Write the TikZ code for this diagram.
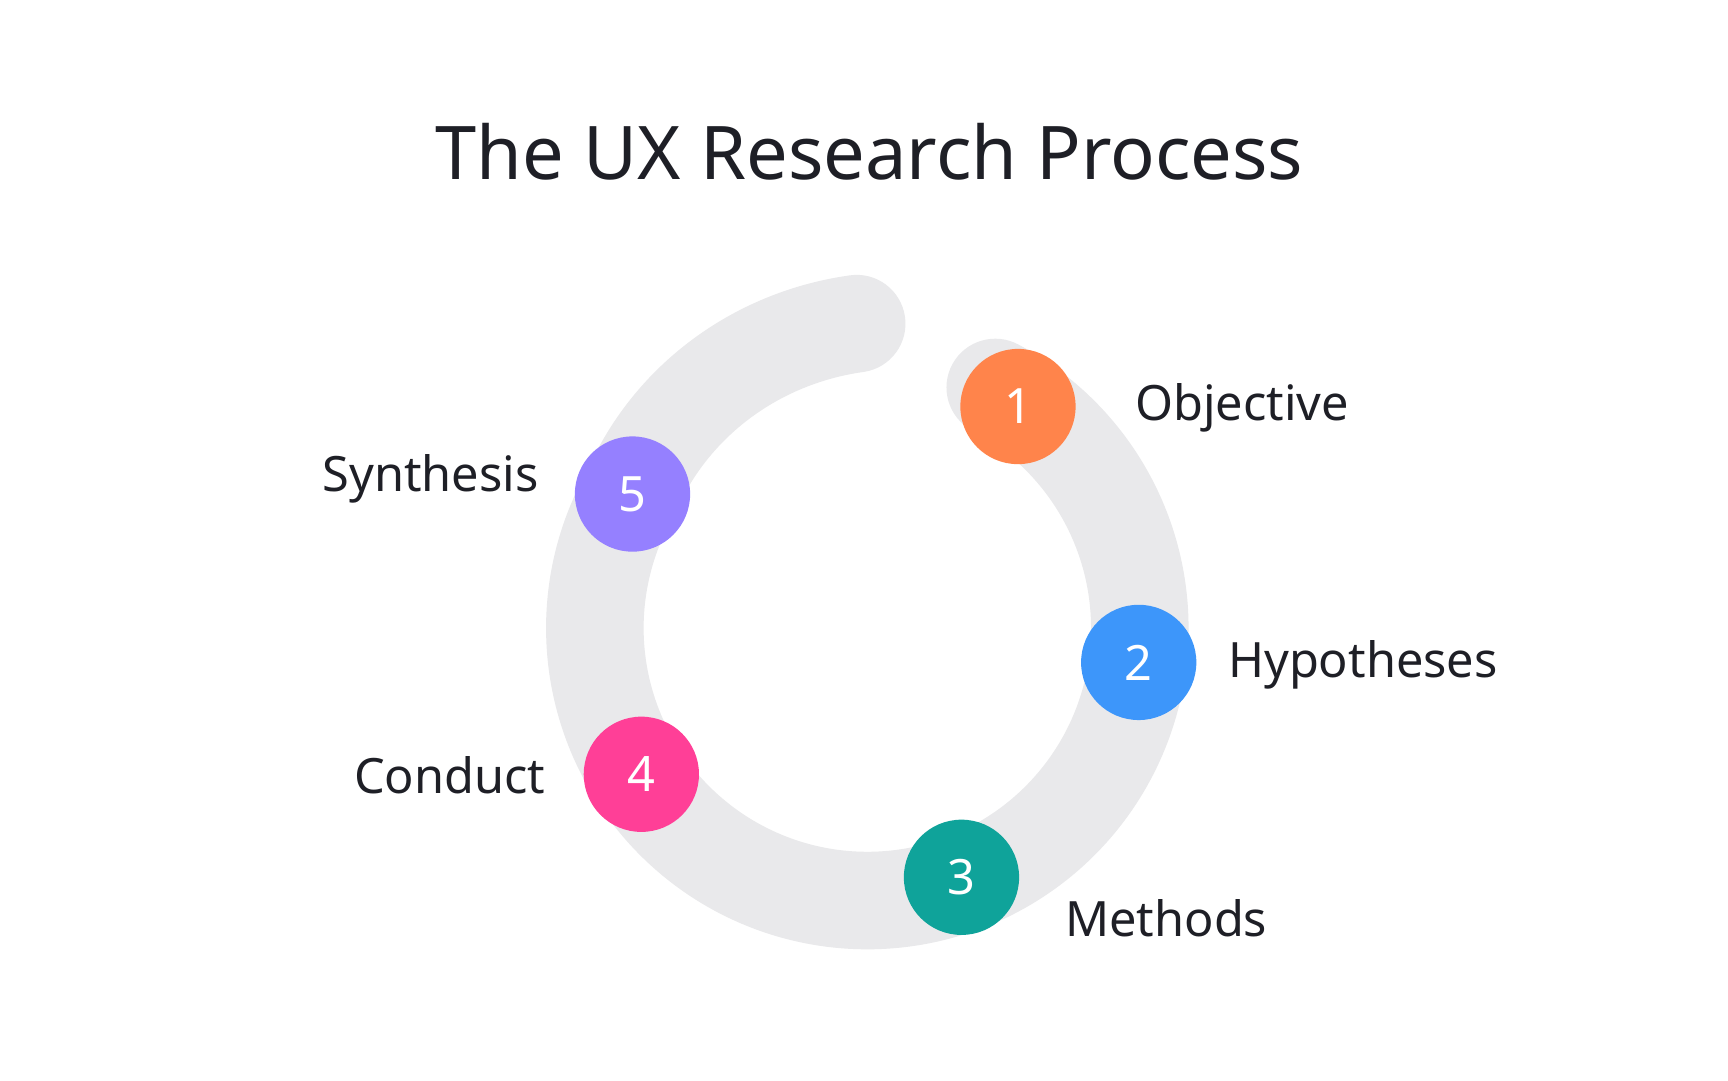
\documentclass[tikz,border=0pt]{standalone}
\usepackage{fontspec}
\setmainfont{Noto Sans}
\definecolor{ring}{HTML}{E9E9EB}
\definecolor{ink}{HTML}{1E1F26}
\definecolor{c1}{HTML}{FF844B}
\definecolor{c2}{HTML}{3D96FA}
\definecolor{c3}{HTML}{0FA39A}
\definecolor{c4}{HTML}{FF3F97}
\definecolor{c5}{HTML}{9580FF}
\begin{document}
\begin{tikzpicture}[x=0.01cm,y=-0.01cm,
  step/.style={circle,minimum size=1.04cm,inner sep=0,fill=#1,text=white,font=\fontsize{12.5}{14}\selectfont\bfseries},
  lab/.style={text=ink,font=\fontsize{12.5}{14}\selectfont\bfseries,inner sep=0}]
\useasboundingbox[fill=white] (0,0) rectangle (1560,975);
\node[text=ink,font=\fontsize{19}{22}\selectfont\bfseries] (title) at (785,137) {The UX Research Process};
\draw[ring,line width=0.88cm,line cap=round] plot[domain=62:-268,samples=200,smooth]
  ({783+(246+0.5*max(0,-210-\x))*cos(\x)},{567-(246+0.5*max(0,-210-\x))*sin(\x)});
\node[step=c1] (n1) at (919,367) {1};
\node[step=c2] (n2) at (1028,598) {2};
\node[step=c3] (n3) at (868,792) {3};
\node[step=c4] (n4) at (579,699) {4};
\node[step=c5] (n5) at (571,446) {5};
\node[lab,anchor=west] (l1) at (1024,368) {Objective};
\node[lab,anchor=west] (l2) at (1108,600) {Hypotheses};
\node[lab,anchor=west] (l3) at (961,829) {Methods};
\node[lab,anchor=east] (l4) at (493,700) {Conduct};
\node[lab,anchor=east] (l5) at (487,432) {Synthesis};
\end{tikzpicture}
\end{document}
